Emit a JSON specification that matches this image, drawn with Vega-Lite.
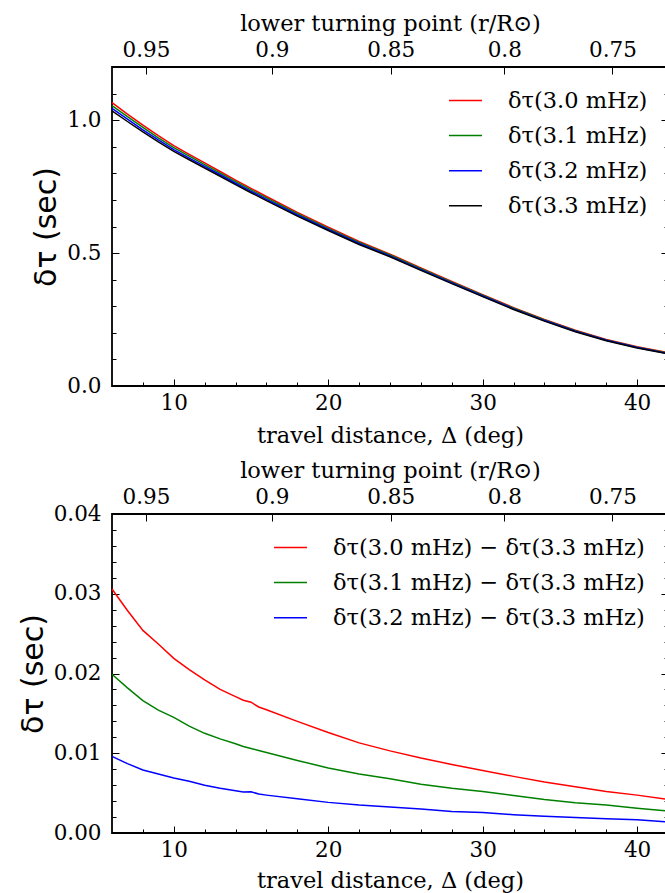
{
  "$schema": "https://vega.github.io/schema/vega-lite/v6.json",
  "padding": {"left": 17, "top": 11, "right": 0, "bottom": 0},
  "background": "white",
  "bounds": "flush",
  "spacing": 128,
  "config": {
    "font": "DejaVu Serif",
    "view": {"stroke": "black", "strokeWidth": 1.8},
    "axis": {"grid": false, "domain": false, "tickColor": "black", "tickWidth": 1, "labelFont": "DejaVu Serif", "labelFontSize": 21.5, "labelColor": "black", "titleFont": "DejaVu Serif", "titleFontSize": 22.5, "titleFontWeight": "normal", "titleColor": "black"},
    "legend": {"labelFont": "DejaVu Serif", "labelFontSize": 22.5, "labelColor": "black", "symbolType": "stroke", "symbolSize": 1089, "symbolStrokeWidth": 1.5, "labelOffset": 25, "rowPadding": 6.1, "padding": 0, "labelLimit": 700}
  },
  "datasets": {
    "top": [
      {"d": 6, "s": "δτ(3.0 mHz)", "v": 1.0656}, {"d": 7, "s": "δτ(3.0 mHz)", "v": 1.0229}, {"d": 8, "s": "δτ(3.0 mHz)", "v": 0.9814}, {"d": 9, "s": "δτ(3.0 mHz)", "v": 0.9417}, {"d": 10, "s": "δτ(3.0 mHz)", "v": 0.9044}, {"d": 11, "s": "δτ(3.0 mHz)", "v": 0.8715}, {"d": 12, "s": "δτ(3.0 mHz)", "v": 0.8392}, {"d": 13, "s": "δτ(3.0 mHz)", "v": 0.807}, {"d": 14, "s": "δτ(3.0 mHz)", "v": 0.7746}, {"d": 15, "s": "δτ(3.0 mHz)", "v": 0.7434}, {"d": 16, "s": "δτ(3.0 mHz)", "v": 0.713}, {"d": 18, "s": "δτ(3.0 mHz)", "v": 0.653}, {"d": 20, "s": "δτ(3.0 mHz)", "v": 0.5976}, {"d": 22, "s": "δτ(3.0 mHz)", "v": 0.5438}, {"d": 24, "s": "δτ(3.0 mHz)", "v": 0.4963}, {"d": 26, "s": "δτ(3.0 mHz)", "v": 0.4444}, {"d": 28, "s": "δτ(3.0 mHz)", "v": 0.3936}, {"d": 30, "s": "δτ(3.0 mHz)", "v": 0.3439}, {"d": 32, "s": "δτ(3.0 mHz)", "v": 0.295}, {"d": 34, "s": "δτ(3.0 mHz)", "v": 0.2503}, {"d": 36, "s": "δτ(3.0 mHz)", "v": 0.2098}, {"d": 38, "s": "δτ(3.0 mHz)", "v": 0.1752}, {"d": 40, "s": "δτ(3.0 mHz)", "v": 0.1478}, {"d": 42, "s": "δτ(3.0 mHz)", "v": 0.1252},
      {"d": 6, "s": "δτ(3.1 mHz)", "v": 1.0549}, {"d": 7, "s": "δτ(3.1 mHz)", "v": 1.0131}, {"d": 8, "s": "δτ(3.1 mHz)", "v": 0.9725}, {"d": 9, "s": "δτ(3.1 mHz)", "v": 0.9334}, {"d": 10, "s": "δτ(3.1 mHz)", "v": 0.897}, {"d": 11, "s": "δτ(3.1 mHz)", "v": 0.8644}, {"d": 12, "s": "δτ(3.1 mHz)", "v": 0.8325}, {"d": 13, "s": "δτ(3.1 mHz)", "v": 0.8007}, {"d": 14, "s": "δτ(3.1 mHz)", "v": 0.7687}, {"d": 15, "s": "δτ(3.1 mHz)", "v": 0.7376}, {"d": 16, "s": "δτ(3.1 mHz)", "v": 0.7076}, {"d": 18, "s": "δτ(3.1 mHz)", "v": 0.6481}, {"d": 20, "s": "δτ(3.1 mHz)", "v": 0.5932}, {"d": 22, "s": "δτ(3.1 mHz)", "v": 0.5399}, {"d": 24, "s": "δτ(3.1 mHz)", "v": 0.4927}, {"d": 26, "s": "δτ(3.1 mHz)", "v": 0.4411}, {"d": 28, "s": "δτ(3.1 mHz)", "v": 0.3906}, {"d": 30, "s": "δτ(3.1 mHz)", "v": 0.3412}, {"d": 32, "s": "δτ(3.1 mHz)", "v": 0.2927}, {"d": 34, "s": "δτ(3.1 mHz)", "v": 0.2482}, {"d": 36, "s": "δτ(3.1 mHz)", "v": 0.2078}, {"d": 38, "s": "δτ(3.1 mHz)", "v": 0.1734}, {"d": 40, "s": "δτ(3.1 mHz)", "v": 0.1461}, {"d": 42, "s": "δτ(3.1 mHz)", "v": 0.1238},
      {"d": 6, "s": "δτ(3.2 mHz)", "v": 1.0446}, {"d": 7, "s": "δτ(3.2 mHz)", "v": 1.0037}, {"d": 8, "s": "δτ(3.2 mHz)", "v": 0.9639}, {"d": 9, "s": "δτ(3.2 mHz)", "v": 0.9255}, {"d": 10, "s": "δτ(3.2 mHz)", "v": 0.8894}, {"d": 11, "s": "δτ(3.2 mHz)", "v": 0.8575}, {"d": 12, "s": "δτ(3.2 mHz)", "v": 0.8259}, {"d": 13, "s": "δτ(3.2 mHz)", "v": 0.7946}, {"d": 14, "s": "δτ(3.2 mHz)", "v": 0.7628}, {"d": 15, "s": "δτ(3.2 mHz)", "v": 0.7322}, {"d": 16, "s": "δτ(3.2 mHz)", "v": 0.7023}, {"d": 18, "s": "δτ(3.2 mHz)", "v": 0.6433}, {"d": 20, "s": "δτ(3.2 mHz)", "v": 0.5888}, {"d": 22, "s": "δτ(3.2 mHz)", "v": 0.536}, {"d": 24, "s": "δτ(3.2 mHz)", "v": 0.4892}, {"d": 26, "s": "δτ(3.2 mHz)", "v": 0.438}, {"d": 28, "s": "δτ(3.2 mHz)", "v": 0.3877}, {"d": 30, "s": "δτ(3.2 mHz)", "v": 0.3386}, {"d": 32, "s": "δτ(3.2 mHz)", "v": 0.2903}, {"d": 34, "s": "δτ(3.2 mHz)", "v": 0.2461}, {"d": 36, "s": "δτ(3.2 mHz)", "v": 0.206}, {"d": 38, "s": "δτ(3.2 mHz)", "v": 0.1718}, {"d": 40, "s": "δτ(3.2 mHz)", "v": 0.1447}, {"d": 42, "s": "δτ(3.2 mHz)", "v": 0.1223},
      {"d": 6, "s": "δτ(3.3 mHz)", "v": 1.035}, {"d": 7, "s": "δτ(3.3 mHz)", "v": 0.995}, {"d": 8, "s": "δτ(3.3 mHz)", "v": 0.956}, {"d": 9, "s": "δτ(3.3 mHz)", "v": 0.918}, {"d": 10, "s": "δτ(3.3 mHz)", "v": 0.8825}, {"d": 11, "s": "δτ(3.3 mHz)", "v": 0.851}, {"d": 12, "s": "δτ(3.3 mHz)", "v": 0.82}, {"d": 13, "s": "δτ(3.3 mHz)", "v": 0.789}, {"d": 14, "s": "δτ(3.3 mHz)", "v": 0.7575}, {"d": 15, "s": "δτ(3.3 mHz)", "v": 0.727}, {"d": 16, "s": "δτ(3.3 mHz)", "v": 0.6975}, {"d": 18, "s": "δτ(3.3 mHz)", "v": 0.639}, {"d": 20, "s": "δτ(3.3 mHz)", "v": 0.585}, {"d": 22, "s": "δτ(3.3 mHz)", "v": 0.5325}, {"d": 24, "s": "δτ(3.3 mHz)", "v": 0.486}, {"d": 26, "s": "δτ(3.3 mHz)", "v": 0.435}, {"d": 28, "s": "δτ(3.3 mHz)", "v": 0.385}, {"d": 30, "s": "δτ(3.3 mHz)", "v": 0.336}, {"d": 32, "s": "δτ(3.3 mHz)", "v": 0.288}, {"d": 34, "s": "δτ(3.3 mHz)", "v": 0.244}, {"d": 36, "s": "δτ(3.3 mHz)", "v": 0.204}, {"d": 38, "s": "δτ(3.3 mHz)", "v": 0.17}, {"d": 40, "s": "δτ(3.3 mHz)", "v": 0.143}, {"d": 42, "s": "δτ(3.3 mHz)", "v": 0.121}
    ],
    "bot": [
      {"d": 6, "s": "δτ(3.0 mHz) − δτ(3.3 mHz)", "v": 0.0306}, {"d": 7, "s": "δτ(3.0 mHz) − δτ(3.3 mHz)", "v": 0.0279}, {"d": 8, "s": "δτ(3.0 mHz) − δτ(3.3 mHz)", "v": 0.0254}, {"d": 9, "s": "δτ(3.0 mHz) − δτ(3.3 mHz)", "v": 0.0237}, {"d": 10, "s": "δτ(3.0 mHz) − δτ(3.3 mHz)", "v": 0.0219}, {"d": 11, "s": "δτ(3.0 mHz) − δτ(3.3 mHz)", "v": 0.0205}, {"d": 12, "s": "δτ(3.0 mHz) − δτ(3.3 mHz)", "v": 0.0192}, {"d": 13, "s": "δτ(3.0 mHz) − δτ(3.3 mHz)", "v": 0.018}, {"d": 14, "s": "δτ(3.0 mHz) − δτ(3.3 mHz)", "v": 0.0171}, {"d": 14.5, "s": "δτ(3.0 mHz) − δτ(3.3 mHz)", "v": 0.01665}, {"d": 15, "s": "δτ(3.0 mHz) − δτ(3.3 mHz)", "v": 0.0164}, {"d": 15.5, "s": "δτ(3.0 mHz) − δτ(3.3 mHz)", "v": 0.0158}, {"d": 16, "s": "δτ(3.0 mHz) − δτ(3.3 mHz)", "v": 0.01545}, {"d": 18, "s": "δτ(3.0 mHz) − δτ(3.3 mHz)", "v": 0.014}, {"d": 20, "s": "δτ(3.0 mHz) − δτ(3.3 mHz)", "v": 0.0126}, {"d": 22, "s": "δτ(3.0 mHz) − δτ(3.3 mHz)", "v": 0.0113}, {"d": 24, "s": "δτ(3.0 mHz) − δτ(3.3 mHz)", "v": 0.0103}, {"d": 26, "s": "δτ(3.0 mHz) − δτ(3.3 mHz)", "v": 0.0094}, {"d": 28, "s": "δτ(3.0 mHz) − δτ(3.3 mHz)", "v": 0.0086}, {"d": 30, "s": "δτ(3.0 mHz) − δτ(3.3 mHz)", "v": 0.00785}, {"d": 32, "s": "δτ(3.0 mHz) − δτ(3.3 mHz)", "v": 0.0071}, {"d": 34, "s": "δτ(3.0 mHz) − δτ(3.3 mHz)", "v": 0.0064}, {"d": 36, "s": "δτ(3.0 mHz) − δτ(3.3 mHz)", "v": 0.0058}, {"d": 38, "s": "δτ(3.0 mHz) − δτ(3.3 mHz)", "v": 0.0052}, {"d": 40, "s": "δτ(3.0 mHz) − δτ(3.3 mHz)", "v": 0.00475}, {"d": 42, "s": "δτ(3.0 mHz) − δτ(3.3 mHz)", "v": 0.0042},
      {"d": 6, "s": "δτ(3.1 mHz) − δτ(3.3 mHz)", "v": 0.0199}, {"d": 7, "s": "δτ(3.1 mHz) − δτ(3.3 mHz)", "v": 0.0182}, {"d": 8, "s": "δτ(3.1 mHz) − δτ(3.3 mHz)", "v": 0.0166}, {"d": 9, "s": "δτ(3.1 mHz) − δτ(3.3 mHz)", "v": 0.0154}, {"d": 10, "s": "δτ(3.1 mHz) − δτ(3.3 mHz)", "v": 0.0145}, {"d": 11, "s": "δτ(3.1 mHz) − δτ(3.3 mHz)", "v": 0.0134}, {"d": 12, "s": "δτ(3.1 mHz) − δτ(3.3 mHz)", "v": 0.0125}, {"d": 13, "s": "δτ(3.1 mHz) − δτ(3.3 mHz)", "v": 0.0118}, {"d": 14, "s": "δτ(3.1 mHz) − δτ(3.3 mHz)", "v": 0.0112}, {"d": 14.5, "s": "δτ(3.1 mHz) − δτ(3.3 mHz)", "v": 0.01085}, {"d": 15, "s": "δτ(3.1 mHz) − δτ(3.3 mHz)", "v": 0.0106}, {"d": 15.5, "s": "δτ(3.1 mHz) − δτ(3.3 mHz)", "v": 0.01035}, {"d": 16, "s": "δτ(3.1 mHz) − δτ(3.3 mHz)", "v": 0.0101}, {"d": 18, "s": "δτ(3.1 mHz) − δτ(3.3 mHz)", "v": 0.0091}, {"d": 20, "s": "δτ(3.1 mHz) − δτ(3.3 mHz)", "v": 0.00815}, {"d": 22, "s": "δτ(3.1 mHz) − δτ(3.3 mHz)", "v": 0.0074}, {"d": 24, "s": "δτ(3.1 mHz) − δτ(3.3 mHz)", "v": 0.0068}, {"d": 26, "s": "δτ(3.1 mHz) − δτ(3.3 mHz)", "v": 0.0061}, {"d": 28, "s": "δτ(3.1 mHz) − δτ(3.3 mHz)", "v": 0.0056}, {"d": 30, "s": "δτ(3.1 mHz) − δτ(3.3 mHz)", "v": 0.0052}, {"d": 32, "s": "δτ(3.1 mHz) − δτ(3.3 mHz)", "v": 0.0047}, {"d": 34, "s": "δτ(3.1 mHz) − δτ(3.3 mHz)", "v": 0.0042}, {"d": 36, "s": "δτ(3.1 mHz) − δτ(3.3 mHz)", "v": 0.0038}, {"d": 38, "s": "δτ(3.1 mHz) − δτ(3.3 mHz)", "v": 0.0035}, {"d": 40, "s": "δτ(3.1 mHz) − δτ(3.3 mHz)", "v": 0.0031}, {"d": 42, "s": "δτ(3.1 mHz) − δτ(3.3 mHz)", "v": 0.00275},
      {"d": 6, "s": "δτ(3.2 mHz) − δτ(3.3 mHz)", "v": 0.0096}, {"d": 7, "s": "δτ(3.2 mHz) − δτ(3.3 mHz)", "v": 0.0087}, {"d": 8, "s": "δτ(3.2 mHz) − δτ(3.3 mHz)", "v": 0.0079}, {"d": 9, "s": "δτ(3.2 mHz) − δτ(3.3 mHz)", "v": 0.0074}, {"d": 10, "s": "δτ(3.2 mHz) − δτ(3.3 mHz)", "v": 0.0069}, {"d": 11, "s": "δτ(3.2 mHz) − δτ(3.3 mHz)", "v": 0.0065}, {"d": 12, "s": "δτ(3.2 mHz) − δτ(3.3 mHz)", "v": 0.006}, {"d": 13, "s": "δτ(3.2 mHz) − δτ(3.3 mHz)", "v": 0.0056}, {"d": 14, "s": "δτ(3.2 mHz) − δτ(3.3 mHz)", "v": 0.0053}, {"d": 14.5, "s": "δτ(3.2 mHz) − δτ(3.3 mHz)", "v": 0.00515}, {"d": 15, "s": "δτ(3.2 mHz) − δτ(3.3 mHz)", "v": 0.00518}, {"d": 15.5, "s": "δτ(3.2 mHz) − δτ(3.3 mHz)", "v": 0.00488}, {"d": 16, "s": "δτ(3.2 mHz) − δτ(3.3 mHz)", "v": 0.00475}, {"d": 18, "s": "δτ(3.2 mHz) − δτ(3.3 mHz)", "v": 0.0043}, {"d": 20, "s": "δτ(3.2 mHz) − δτ(3.3 mHz)", "v": 0.00384}, {"d": 22, "s": "δτ(3.2 mHz) − δτ(3.3 mHz)", "v": 0.0035}, {"d": 24, "s": "δτ(3.2 mHz) − δτ(3.3 mHz)", "v": 0.00325}, {"d": 26, "s": "δτ(3.2 mHz) − δτ(3.3 mHz)", "v": 0.003}, {"d": 28, "s": "δτ(3.2 mHz) − δτ(3.3 mHz)", "v": 0.0027}, {"d": 30, "s": "δτ(3.2 mHz) − δτ(3.3 mHz)", "v": 0.00256}, {"d": 32, "s": "δτ(3.2 mHz) − δτ(3.3 mHz)", "v": 0.0023}, {"d": 34, "s": "δτ(3.2 mHz) − δτ(3.3 mHz)", "v": 0.0021}, {"d": 36, "s": "δτ(3.2 mHz) − δτ(3.3 mHz)", "v": 0.00195}, {"d": 38, "s": "δτ(3.2 mHz) − δτ(3.3 mHz)", "v": 0.0018}, {"d": 40, "s": "δτ(3.2 mHz) − δτ(3.3 mHz)", "v": 0.00165}, {"d": 42, "s": "δτ(3.2 mHz) − δτ(3.3 mHz)", "v": 0.0014}
    ]
  },
  "vconcat": [
    {
      "width": 556, "height": 319,
      "data": {"name": "top"},
      "layer": [
        {
          "mark": {"type": "line", "strokeWidth": 1.5},
          "encoding": {
            "x": {"field": "d", "type": "quantitative", "scale": {"domain": [6, 42], "nice": false, "zero": false},
                  "axis": {"orient": "bottom", "values": [10, 20, 30, 40], "format": "d", "tickSize": -7, "labelPadding": 13, "titlePadding": 11, "title": "travel distance, Δ (deg)"}},
            "y": {"field": "v", "type": "quantitative", "scale": {"domain": [0, 1.2], "nice": false},
                  "axis": {"orient": "left", "values": [0, 0.5, 1], "format": ".1f", "tickSize": -7, "labelPadding": 18, "titlePadding": 5, "title": "δτ (sec)", "titleFont": "DejaVu Sans", "titleFontSize": 30}},
            "color": {"field": "s", "type": "nominal",
                      "scale": {"domain": ["δτ(3.0 mHz)", "δτ(3.1 mHz)", "δτ(3.2 mHz)", "δτ(3.3 mHz)"], "range": ["#ff0000", "#008000", "#0000ff", "#000000"]},
                      "legend": {"orient": "none", "legendX": 336, "legendY": 16, "title": null}}
          }
        },
        {
          "mark": {"type": "line", "opacity": 0},
          "encoding": {
            "x": {"field": "d", "type": "quantitative", "axis": {"orient": "bottom", "values": [8, 12, 14, 16, 18, 22, 24, 26, 28, 32, 34, 36, 38], "labels": false, "tickSize": -4, "title": null}},
            "y": {"field": "v", "type": "quantitative", "axis": null}
          }
        },
        {
          "mark": {"type": "line", "opacity": 0},
          "encoding": {
            "x": {"field": "d", "type": "quantitative", "axis": {"orient": "top", "values": [8.2, 16.35, 24.05, 31.4, 38.4], "tickSize": -7, "labelPadding": 13, "titlePadding": 4, "title": "lower turning point (r/R⊙)",
                  "labelExpr": "datum.value == 8.2 ? '0.95' : datum.value == 16.35 ? '0.9' : datum.value == 24.05 ? '0.85' : datum.value == 31.4 ? '0.8' : '0.75'"}},
            "y": {"field": "v", "type": "quantitative", "axis": null}
          }
        },
        {
          "mark": {"type": "line", "opacity": 0},
          "encoding": {
            "x": {"field": "d", "type": "quantitative", "axis": null},
            "y": {"field": "v", "type": "quantitative", "axis": {"orient": "left", "values": [0.1, 0.2, 0.3, 0.4, 0.6, 0.7, 0.8, 0.9, 1.1], "labels": false, "tickSize": -4, "title": null}}
          }
        },
        {
          "mark": {"type": "line", "opacity": 0},
          "encoding": {
            "x": {"field": "d", "type": "quantitative", "axis": null},
            "y": {"field": "v", "type": "quantitative", "axis": {"orient": "right", "values": [0, 0.5, 1], "labels": false, "tickSize": -7, "title": null}}
          }
        },
        {
          "mark": {"type": "line", "opacity": 0},
          "encoding": {
            "x": {"field": "d", "type": "quantitative", "axis": null},
            "y": {"field": "v", "type": "quantitative", "axis": {"orient": "right", "values": [0.1, 0.2, 0.3, 0.4, 0.6, 0.7, 0.8, 0.9, 1.1], "labels": false, "tickSize": -4, "title": null}}
          }
        }
      ],
      "resolve": {"axis": {"x": "independent", "y": "independent"}}
    },
    {
      "width": 556, "height": 319,
      "data": {"name": "bot"},
      "layer": [
        {
          "mark": {"type": "line", "strokeWidth": 1.5},
          "encoding": {
            "x": {"field": "d", "type": "quantitative", "scale": {"domain": [6, 42], "nice": false, "zero": false},
                  "axis": {"orient": "bottom", "values": [10, 20, 30, 40], "format": "d", "tickSize": -7, "labelPadding": 13, "titlePadding": 9, "title": "travel distance, Δ (deg)"}},
            "y": {"field": "v", "type": "quantitative", "scale": {"domain": [0, 0.04], "nice": false},
                  "axis": {"orient": "left", "values": [0, 0.01, 0.02, 0.03, 0.04], "format": ".2f", "tickSize": -7, "labelPadding": 18, "titlePadding": 5, "title": "δτ (sec)", "titleFont": "DejaVu Sans", "titleFontSize": 30}},
            "color": {"field": "s", "type": "nominal",
                      "scale": {"domain": ["δτ(3.0 mHz) − δτ(3.3 mHz)", "δτ(3.1 mHz) − δτ(3.3 mHz)", "δτ(3.2 mHz) − δτ(3.3 mHz)"], "range": ["#ff0000", "#008000", "#0000ff"]},
                      "legend": {"orient": "none", "legendX": 161, "legendY": 16, "title": null}}
          }
        },
        {
          "mark": {"type": "line", "opacity": 0},
          "encoding": {
            "x": {"field": "d", "type": "quantitative", "axis": {"orient": "bottom", "values": [8, 12, 14, 16, 18, 22, 24, 26, 28, 32, 34, 36, 38], "labels": false, "tickSize": -4, "title": null}},
            "y": {"field": "v", "type": "quantitative", "axis": null}
          }
        },
        {
          "mark": {"type": "line", "opacity": 0},
          "encoding": {
            "x": {"field": "d", "type": "quantitative", "axis": {"orient": "top", "values": [8.2, 16.35, 24.05, 31.4, 38.4], "tickSize": -7, "labelPadding": 13, "titlePadding": 4, "title": "lower turning point (r/R⊙)",
                  "labelExpr": "datum.value == 8.2 ? '0.95' : datum.value == 16.35 ? '0.9' : datum.value == 24.05 ? '0.85' : datum.value == 31.4 ? '0.8' : '0.75'"}},
            "y": {"field": "v", "type": "quantitative", "axis": null}
          }
        },
        {
          "mark": {"type": "line", "opacity": 0},
          "encoding": {
            "x": {"field": "d", "type": "quantitative", "axis": null},
            "y": {"field": "v", "type": "quantitative", "axis": {"orient": "left", "values": [0.002, 0.004, 0.006, 0.008, 0.012, 0.014, 0.016, 0.018, 0.022, 0.024, 0.026, 0.028, 0.032, 0.034, 0.036, 0.038], "labels": false, "tickSize": -4, "title": null}}
          }
        },
        {
          "mark": {"type": "line", "opacity": 0},
          "encoding": {
            "x": {"field": "d", "type": "quantitative", "axis": null},
            "y": {"field": "v", "type": "quantitative", "axis": {"orient": "right", "values": [0, 0.01, 0.02, 0.03, 0.04], "labels": false, "tickSize": -7, "title": null}}
          }
        },
        {
          "mark": {"type": "line", "opacity": 0},
          "encoding": {
            "x": {"field": "d", "type": "quantitative", "axis": null},
            "y": {"field": "v", "type": "quantitative", "axis": {"orient": "right", "values": [0.002, 0.004, 0.006, 0.008, 0.012, 0.014, 0.016, 0.018, 0.022, 0.024, 0.026, 0.028, 0.032, 0.034, 0.036, 0.038], "labels": false, "tickSize": -4, "title": null}}
          }
        }
      ],
      "resolve": {"axis": {"x": "independent", "y": "independent"}}
    }
  ],
  "resolve": {"scale": {"color": "independent"}}
}
